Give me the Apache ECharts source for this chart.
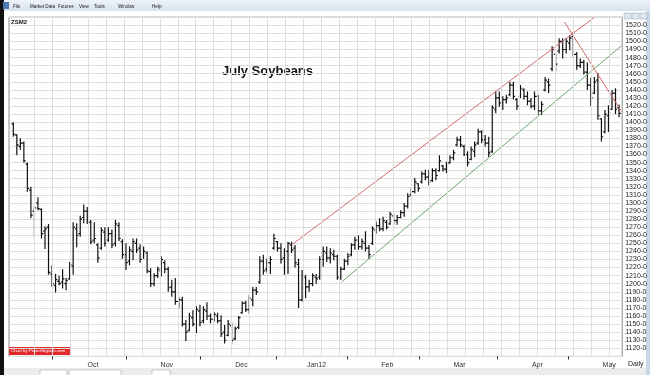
<!DOCTYPE html>
<html><head><meta charset="utf-8">
<script src="https://cdn.jsdelivr.net/npm/echarts@6/dist/echarts.min.js"></script>
<style>html,body{margin:0;padding:0;background:#fff}#c{width:650px;height:375px}</style>
</head><body><div id="c"></div>
<script>
// Daily OHLC, July Soybeans (ZSM2), mid-Sep 2011 .. mid-May 2012
const highs = [1400,1385,1380,1376,1350,1320,1296,1307,1293,1271,1274,1223,1212,1210,1218,1207,1227,1276,1275,1284,
1298,1295,1279,1276,1250,1270,1270,1270,1267,1279,1276,1255,1250,1246,1256,1256,1249,1246,1240,1219,
1213,1221,1234,1229,1221,1205,1207,1184,1184,1155,1164,1167,1172,1174,1172,1177,1163,1165,1164,1161,
1149,1155,1152,1147,1160,1178,1179,1186,1196,1196,1234,1236,1231,1234,1262,1253,1250,1244,1252,1252,
1248,1231,1217,1211,1205,1213,1212,1234,1246,1246,1244,1242,1236,1221,1231,1238,1250,1258,1260,1256,
1265,1248,1271,1277,1281,1283,1279,1289,1287,1285,1291,1300,1312,1318,1331,1324,1339,1341,1341,1343,
1343,1359,1347,1351,1359,1366,1382,1383,1372,1364,1370,1376,1392,1390,1384,1382,1421,1438,1438,1432,
1434,1450,1450,1430,1446,1442,1438,1430,1438,1434,1426,1456,1454,1494,1485,1504,1504,1504,1508,1512,
1487,1479,1477,1474,1455,1456,1461,1405,1415,1421,1440,1442,1422];
const lows = [1382,1359,1366,1350,1314,1281,1258,1291,1256,1243,1211,1196,1189,1198,1194,1192,1205,1211,1245,1258,
1275,1274,1249,1250,1226,1242,1246,1252,1244,1246,1253,1231,1217,1223,1229,1238,1226,1231,1213,1196,
1197,1207,1209,1213,1190,1184,1174,1170,1147,1129,1141,1147,1139,1147,1151,1155,1151,1153,1151,1134,
1126,1135,1125,1130,1144,1163,1165,1163,1172,1186,1200,1211,1214,1212,1242,1240,1225,1211,1212,1238,
1220,1170,1178,1182,1190,1197,1200,1205,1221,1227,1225,1229,1205,1205,1217,1223,1234,1242,1242,1242,
1240,1231,1248,1262,1265,1265,1267,1273,1273,1273,1281,1283,1293,1308,1312,1314,1324,1328,1322,1326,
1328,1339,1339,1337,1349,1353,1370,1369,1358,1345,1353,1357,1372,1374,1370,1357,1362,1411,1419,1415,
1423,1432,1428,1415,1430,1428,1421,1417,1415,1409,1409,1438,1436,1463,1463,1485,1479,1485,1489,1481,
1465,1467,1459,1440,1420,1435,1403,1376,1386,1388,1415,1410,1406];
const opens = [1398,1384,1370,1374,1348,1316,1290,1300,1292,1265,1270,1212,1198,1203,1202,1200,1206,1222,1268,1262,
1282,1290,1276,1254,1248,1244,1264,1254,1262,1250,1272,1252,1236,1228,1240,1250,1244,1232,1238,1215,
1200,1210,1216,1226,1218,1196,1190,1178,1180,1150,1142,1158,1150,1166,1154,1166,1160,1156,1160,1154,
1140,1136,1148,1132,1146,1164,1176,1168,1180,1192,1202,1228,1218,1226,1244,1252,1244,1232,1240,1248,
1244,1224,1180,1208,1196,1200,1208,1208,1230,1238,1232,1236,1234,1208,1218,1228,1236,1248,1254,1246,
1250,1244,1250,1266,1272,1268,1276,1274,1284,1278,1282,1288,1296,1310,1314,1324,1326,1336,1332,1328,
1340,1340,1346,1342,1350,1356,1372,1378,1370,1360,1354,1364,1374,1388,1378,1374,1364,1416,1430,1424,
1428,1434,1446,1428,1432,1440,1432,1426,1420,1432,1414,1440,1450,1466,1484,1488,1500,1490,1498,1506,
1484,1470,1474,1462,1446,1436,1452,1404,1388,1408,1416,1436,1418];
const closes = [1385,1372,1374,1352,1318,1285,1294,1293,1262,1268,1214,1200,1205,1200,1206,1204,1224,1270,1260,1280,
1290,1278,1252,1256,1232,1266,1250,1262,1248,1274,1256,1236,1226,1242,1252,1242,1230,1240,1216,1200,
1210,1218,1230,1218,1195,1190,1178,1180,1150,1140,1160,1150,1168,1152,1168,1160,1156,1162,1154,1138,
1130,1150,1130,1144,1158,1176,1168,1182,1192,1190,1228,1216,1226,1230,1256,1244,1230,1240,1250,1242,
1226,1180,1210,1196,1200,1210,1206,1230,1240,1232,1238,1234,1208,1218,1228,1234,1248,1254,1246,1252,
1244,1236,1268,1272,1268,1278,1270,1286,1278,1282,1288,1296,1308,1314,1326,1318,1336,1332,1326,1340,
1334,1352,1342,1348,1356,1362,1378,1372,1360,1350,1366,1372,1388,1378,1374,1362,1418,1430,1424,1428,
1430,1446,1432,1420,1442,1432,1426,1420,1432,1414,1422,1452,1446,1490,1472,1500,1490,1500,1504,1484,
1470,1474,1462,1446,1430,1450,1408,1382,1410,1412,1436,1416,1411];
const monthNames = ['Oct','Nov','Dec','Jan12','Feb','Mar','Apr','May'];
const monthBreaks = [11, 32.2, 53.2, 74.8, 94.9, 115.3, 137.4, 157.6];
const monthLabelAt = [22.6, 43.6, 64.8, 86.1, 106.2, 126.7, 148.8, 169.2];
const upperChannel = [[79, 1248], [164.9, 1529.5]];
const lowerChannel = [[93.2, 1202], [172.6, 1494.4]];
const downTrend = [[156.5, 1524], [172.6, 1414]];

const vGrid = [];
for (let k = 0; k <= 32; k++) vGrid.push({xAxis: (34 + 18 * k - 13.3) / 3.527});

const ohlc = highs.map((h, i) => [i, opens[i], h, lows[i], closes[i]]);
const chart = echarts.init(document.getElementById('c'), null, {renderer: 'canvas'});
const F = 'Liberation Sans, Arial, sans-serif';
const menu = [['File', 13], ['Market Data', 30], ['Futures', 58], ['View', 79], ['Tools', 94], ['Window', 118], ['Help', 152]];
const menuItems = menu.map(m => ({type: 'text', x: m[1], y: 4, style: {text: m[0], fontSize: 4.6, fill: '#222', fontFamily: F}}));
chart.setOption({
  animation: false,
  backgroundColor: '#ffffff',
  grid: {left: 9, top: 17.2, width: 614, height: 339.2, show: true, borderColor: '#8a8a8a', borderWidth: 1},
  xAxis: {
    type: 'value', min: -1.22, max: 172.9,
    splitLine: {show: false}, axisLine: {show: false},
    axisTick: {show: true, customValues: monthBreaks, length: 3, lineStyle: {color: '#222', width: 1}},
    axisLabel: {customValues: monthLabelAt, fontSize: 7, color: '#333', margin: 5, fontFamily: F,
      formatter: v => { const i = monthLabelAt.indexOf(v); return i >= 0 ? monthNames[i] : ''; }}
  },
  yAxis: {
    type: 'value', position: 'right', min: 1110, max: 1530, interval: 10,
    axisLine: {show: false}, axisTick: {show: false},
    splitLine: {lineStyle: {color: '#dedede', width: 1}},
    axisLabel: {formatter: v => v + '-0', fontSize: 7, color: '#222', margin: 3, fontFamily: F,
      showMinLabel: false, showMaxLabel: false}
  },
  series: [
    {type: 'line', data: [], markLine: {silent: true, symbol: 'none', label: {show: false},
      lineStyle: {color: '#dedede', width: 1, type: 'solid'}, data: vGrid}},
    {type: 'custom', data: ohlc, clip: true,
      encode: {x: 0, y: [1, 2, 3, 4]},
      renderItem: (params, api) => {
        const x = api.value(0);
        const pH = api.coord([x, api.value(2)]), pL = api.coord([x, api.value(3)]);
        const pO = api.coord([x, api.value(1)]), pC = api.coord([x, api.value(4)]);
        const st = {stroke: '#111', lineWidth: 1.2};
        return {type: 'group', children: [
          {type: 'line', shape: {x1: pH[0], y1: pH[1], x2: pL[0], y2: pL[1]}, style: st},
          {type: 'line', shape: {x1: pO[0] - 1.8, y1: pO[1], x2: pO[0], y2: pO[1]}, style: st},
          {type: 'line', shape: {x1: pC[0], y1: pC[1], x2: pC[0] + 1.8, y2: pC[1]}, style: st}
        ]};
      }},
    {type: 'line', data: upperChannel, symbol: 'none', clip: true, lineStyle: {color: '#d86a6a', width: 1}},
    {type: 'line', data: lowerChannel, symbol: 'none', clip: true, lineStyle: {color: '#6aa86a', width: 1}},
    {type: 'line', data: downTrend, symbol: 'none', clip: true, lineStyle: {color: '#d86a6a', width: 1}}
  ],
  graphic: [
    {type: 'rect', shape: {x: 0, y: 0, width: 650, height: 11}, style: {fill: new echarts.graphic.LinearGradient(0,0,0,1,[{offset:0,color:'#eef3f9'},{offset:1,color:'#d7e2ee'}])}},
    {type: 'rect', shape: {x: 0, y: 0, width: 4, height: 375}, style: {fill: '#111'}},
    {type: 'rect', shape: {x: 646, y: 11, width: 4, height: 364}, style: {fill: '#c9d6e4'}},
    {type: 'rect', shape: {x: 3, y: 2, width: 6, height: 7}, style: {fill: '#4a78b0'}},
    ...menuItems,
    {type: 'rect', shape: {x: 624, y: 13, width: 7, height: 6}, style: {fill: '#dde6f0', stroke: '#9aaabb', lineWidth: 0.5}},
    {type: 'rect', shape: {x: 632, y: 13, width: 7, height: 6}, style: {fill: '#dde6f0', stroke: '#9aaabb', lineWidth: 0.5}},
    {type: 'rect', shape: {x: 640, y: 13, width: 7, height: 6}, style: {fill: '#dde6f0', stroke: '#9aaabb', lineWidth: 0.5}},
    {type: 'text', x: 11, y: 19, style: {text: 'ZSM2', fontSize: 6, fontWeight: 'bold', fill: '#111', fontFamily: F}},
    {type: 'text', x: 222, y: 65, style: {text: 'July Soybeans', fontSize: 13, fontWeight: 'bold', fill: '#111', fontFamily: F}},
    {type: 'rect', shape: {x: 9, y: 347, width: 62, height: 8}, style: {fill: '#e02a2a'}},
    {type: 'text', x: 11, y: 349, style: {text: 'Chart by PowerSignals.com', fontSize: 4.4, fill: '#fff', fontFamily: F}},
    {type: 'text', x: 628, y: 361, style: {text: 'Daily', fontSize: 7, fill: '#222', fontFamily: F}},
    {type: 'rect', shape: {x: 4, y: 368, width: 642, height: 7}, style: {fill: '#ececec'}},
    {type: 'rect', shape: {x: 40, y: 370, width: 27, height: 6}, style: {fill: '#fff', stroke: '#999', lineWidth: 0.5}},
    {type: 'rect', shape: {x: 69, y: 370, width: 52, height: 6}, style: {fill: '#fff', stroke: '#999', lineWidth: 0.5}},
    {type: 'rect', shape: {x: 152, y: 370, width: 18, height: 6}, style: {fill: '#fff', stroke: '#999', lineWidth: 0.5}}
  ]
});
</script></body></html>
